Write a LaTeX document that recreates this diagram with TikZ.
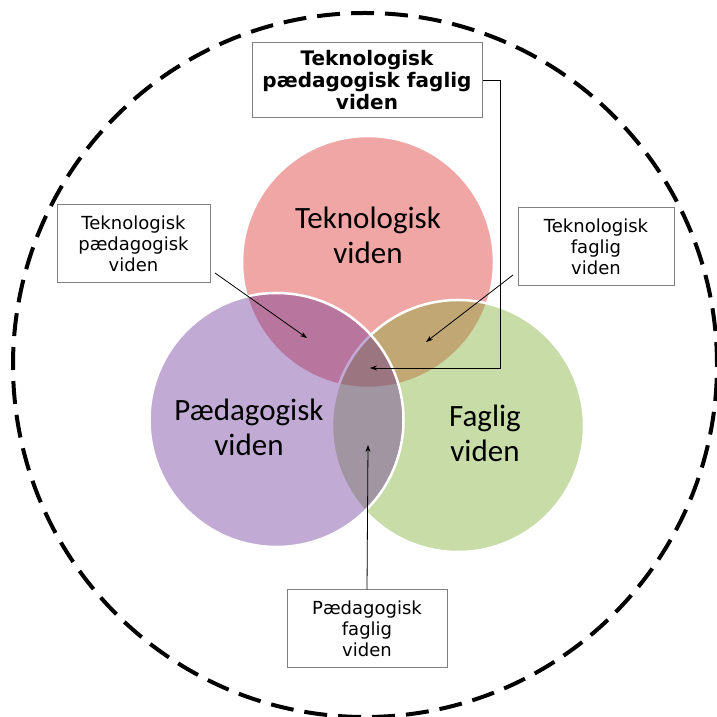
\documentclass[tikz,border=0pt]{standalone}
\usepackage{fontspec}
\setmainfont{DejaVu Sans}
\newfontfamily\calibrifont{Carlito}
\usetikzlibrary{arrows.meta}
\definecolor{tekcol}{RGB}{220,33,33}
\definecolor{paedcol}{RGB}{100,43,148}
\definecolor{fagcol}{RGB}{118,168,38}
\definecolor{boksgra}{RGB}{128,128,128}
\tikzset{
  kreds/.style={draw=white, line width=2.5pt, fill opacity=0.4},
  kredstekst/.style={align=center, font=\calibrifont\fontsize{31}{35}\selectfont},
  boks/.style={draw=boksgra, line width=1pt, align=center, inner sep=0pt,
    font=\fontsize{18}{21}\selectfont},
  pil/.style={line width=0.8pt, -{Stealth[length=7pt,width=5pt]}}
}
\begin{document}
\begin{tikzpicture}[x=1pt, y=1pt]
      \useasboundingbox (0,0) rectangle (716,717);
      %
      \draw[line width=4pt, dash pattern=on 23pt off 11pt] (365,352) circle (352);
      %
      \draw[kreds, fill=tekcol] (368,455) circle (126);
      \draw[kreds, fill=fagcol] (458,291) circle (126);
      \draw[kreds, fill=paedcol] (276.5,297) circle (127);
      %
      \node[kredstekst] (tek) at (368,482) {Teknologisk\\viden};
      \node[kredstekst] (paed) at (249,290) {Pædagogisk\\viden};
      \node[kredstekst] (fag) at (485,284) {Faglig\\viden};
      %
      \node[boks, minimum width=230pt, minimum height=75pt,
        font=\bfseries\fontsize{20}{22}\selectfont] (tpf) at (367,636.5)
        {Teknologisk\\pædagogisk faglig\\viden};
      \node[boks, minimum width=153pt, minimum height=78pt] (tp) at (133.5,473)
        {Teknologisk\\pædagogisk\\viden};
      \node[boks, minimum width=156pt, minimum height=78pt] (tf) at (596,470)
        {Teknologisk\\faglig\\viden};
      \node[boks, minimum width=160pt, minimum height=78pt] (pf) at (367,88)
        {Pædagogisk\\faglig\\viden};
      %
      \coordinate (tpfknk) at (500,349);
      \coordinate (tpfpil) at (370,349);
      \coordinate (tpstart) at (215,444);
      \coordinate (tppil) at (307,379);
      \coordinate (tfstart) at (513,442);
      \coordinate (tfpil) at (426,375);
      \coordinate (pfpil) at (368,272);
      %
      \draw[pil] (tpf.east) -| (tpfknk) -- (tpfpil);
      \draw[pil] (tpstart) -- (tppil);
      \draw[pil] (tfstart) -- (tfpil);
      \draw[pil] (pf.north) -- (pfpil);
      %
    \end{tikzpicture}
\end{document}
